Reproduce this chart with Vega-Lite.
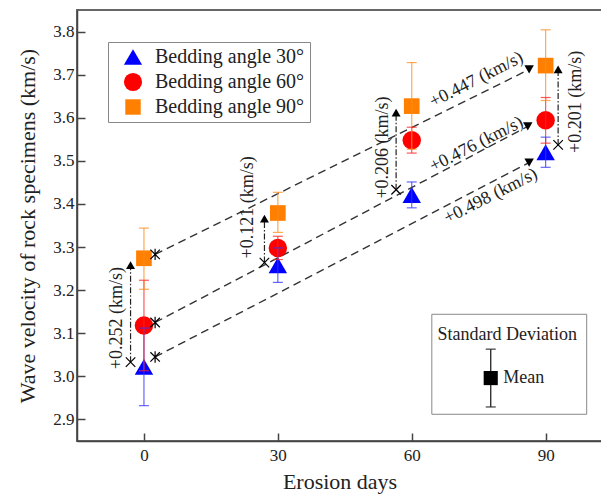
{
  "$schema": "https://vega.github.io/schema/vega-lite/v6.json",
  "autosize": {"type": "none"},
  "padding": {"left": 77, "top": 10, "right": 0, "bottom": 60},
  "width": 525,
  "height": 431,
  "background": "white",
  "config": {
    "view": {"stroke": "#666", "strokeWidth": 2},
    "font": "Liberation Serif",
    "axis": {
      "grid": false,
      "domainColor": "#444",
      "domainWidth": 1.5,
      "tickColor": "#444",
      "tickWidth": 1.5,
      "tickSize": -8,
      "labelFont": "Liberation Serif",
      "labelFontSize": 17,
      "labelColor": "#222",
      "titleFont": "Liberation Serif",
      "titleFontSize": 22,
      "titleFontWeight": "normal",
      "titleColor": "#222"
    }
  },
  "datasets": {
    "pts": [
      {"day": 0, "angle": "Bedding angle 30°", "v": 3.022, "lo": 2.932, "hi": 3.112},
      {"day": 30, "angle": "Bedding angle 30°", "v": 3.258, "lo": 3.218, "hi": 3.298},
      {"day": 60, "angle": "Bedding angle 30°", "v": 3.421, "lo": 3.391, "hi": 3.451},
      {"day": 90, "angle": "Bedding angle 30°", "v": 3.520, "lo": 3.485, "hi": 3.555},
      {"day": 0, "angle": "Bedding angle 60°", "v": 3.118, "lo": 3.013, "hi": 3.223},
      {"day": 30, "angle": "Bedding angle 60°", "v": 3.298, "lo": 3.271, "hi": 3.325},
      {"day": 60, "angle": "Bedding angle 60°", "v": 3.548, "lo": 3.518, "hi": 3.578},
      {"day": 90, "angle": "Bedding angle 60°", "v": 3.594, "lo": 3.541, "hi": 3.647},
      {"day": 0, "angle": "Bedding angle 90°", "v": 3.274, "lo": 3.202, "hi": 3.344},
      {"day": 30, "angle": "Bedding angle 90°", "v": 3.379, "lo": 3.334, "hi": 3.427},
      {"day": 60, "angle": "Bedding angle 90°", "v": 3.627, "lo": 3.527, "hi": 3.728},
      {"day": 90, "angle": "Bedding angle 90°", "v": 3.721, "lo": 3.640, "hi": 3.804}
    ],
    "dash": [
      {"g": "90", "day": 2.5, "v": 3.283, "end": "start"},
      {"g": "90", "day": 86.3, "v": 3.712, "end": "end"},
      {"g": "60", "day": 2.5, "v": 3.125, "end": "start"},
      {"g": "60", "day": 86.0, "v": 3.580, "end": "end"},
      {"g": "30", "day": 2.5, "v": 3.045, "end": "start"},
      {"g": "30", "day": 86.3, "v": 3.496, "end": "end"}
    ],
    "arrows": [
      {"day": -3, "lo": 3.033, "hi": 3.258},
      {"day": 27, "lo": 3.264, "hi": 3.366},
      {"day": 56.5, "lo": 3.433, "hi": 3.612},
      {"day": 92.8, "lo": 3.537, "hi": 3.712}
    ],
    "labels": [
      {"day": -6.1, "v": 3.135, "txt": "+0.252 (km/s)", "ang": 270},
      {"day": 23.4, "v": 3.392, "txt": "+0.121 (km/s)", "ang": 270},
      {"day": 53.6, "v": 3.531, "txt": "+0.206 (km/s)", "ang": 270},
      {"day": 96.8, "v": 3.637, "txt": "+0.201 (km/s)", "ang": 270},
      {"day": 74.5, "v": 3.688, "txt": "+0.447 (km/s)", "ang": 333},
      {"day": 74.5, "v": 3.538, "txt": "+0.476 (km/s)", "ang": 333},
      {"day": 77.7, "v": 3.418, "txt": "+0.498 (km/s)", "ang": 333}
    ],
    "sdbox": [{"x1": 64.5, "x2": 99.2, "y1": 2.912, "y2": 3.144}],
    "sdbar": [{"day": 77.7, "lo": 2.929, "hi": 3.063, "v": 2.996}],
    "sdtitle": [{"day": 81.4, "v": 3.097, "txt": "Standard Deviation"}],
    "sdmean": [{"day": 80.5, "v": 2.996, "txt": "Mean"}]
  },
  "layer": [
    {
      "data": {"name": "sdbox"},
      "mark": {"type": "rect", "fill": "white", "stroke": "#888", "strokeWidth": 1},
      "encoding": {
        "x": {"field": "x1", "type": "quantitative", "scale": {"domain": [-15, 102.63], "nice": false, "zero": false}, "axis": {"values": [0, 30, 60, 90], "labelPadding": 14, "titlePadding": 8}, "title": "Erosion days"},
        "x2": {"field": "x2"},
        "y": {"field": "y1", "type": "quantitative", "scale": {"domain": [2.85, 3.85], "nice": false, "zero": false}, "axis": {"values": [2.9, 3.0, 3.1, 3.2, 3.3, 3.4, 3.5, 3.6, 3.7, 3.8], "format": ".1f", "labelPadding": 11, "titlePadding": 13}, "title": "Wave velocity of rock specimens (km/s)"},
        "y2": {"field": "y2"}
      }
    },
    {
      "data": {"name": "sdbar"},
      "mark": {"type": "rule", "color": "#222", "strokeWidth": 1.3},
      "encoding": {
        "x": {"field": "day", "type": "quantitative", "title": "Erosion days"},
        "y": {"field": "lo", "type": "quantitative", "title": "Wave velocity of rock specimens (km/s)"},
        "y2": {"field": "hi"}
      }
    },
    {
      "data": {"name": "sdbar"},
      "mark": {"type": "tick", "orient": "horizontal", "color": "#222", "size": 10, "thickness": 1.5},
      "encoding": {
        "x": {"field": "day", "type": "quantitative", "title": "Erosion days"},
        "y": {"field": "lo", "type": "quantitative", "title": "Wave velocity of rock specimens (km/s)"}
      }
    },
    {
      "data": {"name": "sdbar"},
      "mark": {"type": "tick", "orient": "horizontal", "color": "#222", "size": 10, "thickness": 1.5},
      "encoding": {
        "x": {"field": "day", "type": "quantitative", "title": "Erosion days"},
        "y": {"field": "hi", "type": "quantitative", "title": "Wave velocity of rock specimens (km/s)"}
      }
    },
    {
      "data": {"name": "sdbar"},
      "mark": {"type": "point", "shape": "square", "filled": true, "color": "black", "size": 200, "opacity": 1},
      "encoding": {
        "x": {"field": "day", "type": "quantitative", "title": "Erosion days"},
        "y": {"field": "v", "type": "quantitative", "title": "Wave velocity of rock specimens (km/s)"}
      }
    },
    {
      "data": {"name": "sdtitle"},
      "mark": {"type": "text", "fontSize": 18, "color": "#222", "align": "center", "baseline": "middle", "font": "Liberation Serif"},
      "encoding": {
        "x": {"field": "day", "type": "quantitative", "title": "Erosion days"},
        "y": {"field": "v", "type": "quantitative", "title": "Wave velocity of rock specimens (km/s)"},
        "text": {"field": "txt"}
      }
    },
    {
      "data": {"name": "sdmean"},
      "mark": {"type": "text", "fontSize": 18, "color": "#222", "align": "left", "baseline": "middle", "font": "Liberation Serif"},
      "encoding": {
        "x": {"field": "day", "type": "quantitative", "title": "Erosion days"},
        "y": {"field": "v", "type": "quantitative", "title": "Wave velocity of rock specimens (km/s)"},
        "text": {"field": "txt"}
      }
    },
    {
      "data": {"name": "dash"},
      "mark": {"type": "line", "color": "#333", "strokeWidth": 1.4, "strokeDash": [8, 5]},
      "encoding": {
        "x": {"field": "day", "type": "quantitative", "title": "Erosion days"},
        "y": {"field": "v", "type": "quantitative", "title": "Wave velocity of rock specimens (km/s)"},
        "detail": {"field": "g"}
      }
    },
    {
      "data": {"name": "arrows"},
      "mark": {"type": "rule", "color": "#222", "strokeWidth": 1.2, "strokeDash": [6, 2, 1.5, 2]},
      "encoding": {
        "x": {"field": "day", "type": "quantitative", "title": "Erosion days"},
        "y": {"field": "lo", "type": "quantitative", "title": "Wave velocity of rock specimens (km/s)"},
        "y2": {"field": "hi"}
      }
    },
    {
      "data": {"name": "arrows"},
      "mark": {"type": "point", "shape": "triangle-up", "filled": true, "color": "black", "size": 80, "opacity": 1},
      "encoding": {
        "x": {"field": "day", "type": "quantitative", "title": "Erosion days"},
        "y": {"field": "hi", "type": "quantitative", "title": "Wave velocity of rock specimens (km/s)"}
      }
    },
    {
      "data": {"name": "arrows"},
      "mark": {"type": "point", "shape": "M-1,-1L1,1M-1,1L1,-1", "filled": false, "color": "black", "strokeWidth": 1.2, "size": 90, "opacity": 1},
      "encoding": {
        "x": {"field": "day", "type": "quantitative", "title": "Erosion days"},
        "y": {"field": "lo", "type": "quantitative", "title": "Wave velocity of rock specimens (km/s)"}
      }
    },
    {
      "data": {"name": "labels"},
      "mark": {"type": "text", "fontSize": 18, "color": "#222", "align": "center", "baseline": "middle", "font": "Liberation Serif"},
      "encoding": {
        "x": {"field": "day", "type": "quantitative", "title": "Erosion days"},
        "y": {"field": "v", "type": "quantitative", "title": "Wave velocity of rock specimens (km/s)"},
        "text": {"field": "txt"},
        "angle": {"field": "ang", "type": "quantitative", "scale": null}
      }
    },
    {
      "data": {"name": "pts"},
      "mark": {"type": "point", "filled": true, "size": 340, "opacity": 1},
      "encoding": {
        "x": {"field": "day", "type": "quantitative", "title": "Erosion days"},
        "y": {"field": "v", "type": "quantitative", "title": "Wave velocity of rock specimens (km/s)"},
        "color": {
          "field": "angle", "type": "nominal", "title": null,
          "scale": {"domain": ["Bedding angle 30°", "Bedding angle 60°", "Bedding angle 90°"], "range": ["#0000ff", "#ff0000", "#ff8000"]},
          "legend": {
            "orient": "none", "legendX": 31, "legendY": 32,
            "strokeColor": "#888", "fillColor": "white", "padding": 5,
            "symbolOffset": 10, "labelFont": "Liberation Serif", "labelFontSize": 20,
            "labelColor": "#222", "labelOffset": 12, "rowPadding": 5,
            "symbolSize": 330, "symbolStrokeWidth": 0
          }
        },
        "shape": {
          "field": "angle", "type": "nominal", "title": null,
          "scale": {"domain": ["Bedding angle 30°", "Bedding angle 60°", "Bedding angle 90°"], "range": ["triangle-up", "circle", "M-0.85,-0.85H0.85V0.85H-0.85Z"]},
          "legend": {
            "orient": "none", "legendX": 31, "legendY": 32,
            "strokeColor": "#888", "fillColor": "white", "padding": 5,
            "symbolOffset": 10, "labelFont": "Liberation Serif", "labelFontSize": 20,
            "labelColor": "#222", "labelOffset": 12, "rowPadding": 5,
            "symbolSize": 330, "symbolStrokeWidth": 0
          }
        }
      }
    },
    {
      "data": {"name": "pts"},
      "mark": {"type": "rule", "strokeWidth": 1.2, "opacity": 0.75},
      "encoding": {
        "x": {"field": "day", "type": "quantitative", "title": "Erosion days"},
        "y": {"field": "lo", "type": "quantitative", "title": "Wave velocity of rock specimens (km/s)"},
        "y2": {"field": "hi"},
        "stroke": {"field": "angle", "type": "nominal", "legend": null, "scale": {"domain": ["Bedding angle 30°", "Bedding angle 60°", "Bedding angle 90°"], "range": ["#3333ff", "#ff2222", "#ff8c1a"]}}
      }
    },
    {
      "data": {"name": "pts"},
      "mark": {"type": "tick", "orient": "horizontal", "size": 10, "thickness": 1.2, "opacity": 0.75},
      "encoding": {
        "x": {"field": "day", "type": "quantitative", "title": "Erosion days"},
        "y": {"field": "lo", "type": "quantitative", "title": "Wave velocity of rock specimens (km/s)"},
        "fill": {"field": "angle", "type": "nominal", "legend": null, "scale": {"domain": ["Bedding angle 30°", "Bedding angle 60°", "Bedding angle 90°"], "range": ["#3333ff", "#ff2222", "#ff8c1a"]}}
      }
    },
    {
      "data": {"name": "pts"},
      "mark": {"type": "tick", "orient": "horizontal", "size": 10, "thickness": 1.2, "opacity": 0.75},
      "encoding": {
        "x": {"field": "day", "type": "quantitative", "title": "Erosion days"},
        "y": {"field": "hi", "type": "quantitative", "title": "Wave velocity of rock specimens (km/s)"},
        "fill": {"field": "angle", "type": "nominal", "legend": null, "scale": {"domain": ["Bedding angle 30°", "Bedding angle 60°", "Bedding angle 90°"], "range": ["#3333ff", "#ff2222", "#ff8c1a"]}}
      }
    },
    {
      "data": {"name": "dash"},
      "transform": [{"filter": "datum.end == 'start'"}],
      "mark": {"type": "point", "shape": "M-1,-1L1,1M-1,1L1,-1M0,-1.2L0,1.2", "filled": false, "color": "black", "strokeWidth": 1.2, "size": 90, "opacity": 1},
      "encoding": {
        "x": {"field": "day", "type": "quantitative", "title": "Erosion days"},
        "y": {"field": "v", "type": "quantitative", "title": "Wave velocity of rock specimens (km/s)"}
      }
    },
    {
      "data": {"name": "dash"},
      "transform": [{"filter": "datum.end == 'end'"}],
      "mark": {"type": "point", "shape": "triangle-down", "filled": true, "color": "black", "size": 90, "opacity": 1},
      "encoding": {
        "x": {"field": "day", "type": "quantitative", "title": "Erosion days"},
        "y": {"field": "v", "type": "quantitative", "title": "Wave velocity of rock specimens (km/s)"}
      }
    }
  ]
}
